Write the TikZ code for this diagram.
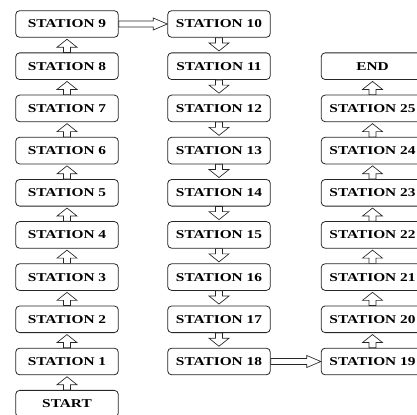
\documentclass[tikz,border=0pt]{standalone}
\usepackage{fontspec}
\newfontfamily\stationfont[FakeStretch=1.28]{Liberation Serif}
\usetikzlibrary{calc}

\tikzset{
    station/.style={draw=black!85, line width=0.6pt, rounded corners=3pt, fill=white,
        minimum width=77pt, minimum height=20pt, inner sep=0pt,
        font=\stationfont\bfseries\fontsize{9}{10}\selectfont},
    flow/.style={draw=black!85, line width=0.5pt, fill=white}
}

% hollow block arrows between two boxes
\newcommand{\upflow}[2]{%
    \draw[flow] ($(#1.north)+(-3.5,0)$) -- ($(#2.south)+(-3.5,-9.5)$) -- ++(-6.5,0)
        -- ($(#2.south)+(0,-1.5)$) -- ($(#2.south)+(10,-9.5)$) -- ++(-6.5,0)
        -- ($(#1.north)+(3.5,0)$) -- cycle;}
\newcommand{\downflow}[2]{%
    \draw[flow] ($(#1.south)+(-3.5,0)$) -- ($(#2.north)+(-3.5,9.5)$) -- ++(-6.5,0)
        -- ($(#2.north)+(0,1.5)$) -- ($(#2.north)+(10,9.5)$) -- ++(-6.5,0)
        -- ($(#1.south)+(3.5,0)$) -- cycle;}
\newcommand{\rightflow}[2]{%
    \draw[flow] ($(#1.east)+(0,3)$) -- ($(#2.west)+(-14,3)$) -- ++(0,3)
        -- (#2.west) -- ($(#2.west)+(-14,-6)$) -- ++(0,3)
        -- ($(#1.east)+(0,-3)$) -- cycle;}

\begin{document}
\begin{tikzpicture}[x=0.75pt, y=0.75pt]
                \useasboundingbox (0,0) rectangle (417,414);
                \clip (0,0) rectangle (417,414);

                % first column, going up
                \node[station] (start) at (67,10.3) {START};
                \node[station] (s1) at (67,52.5) {STATION 1};
                \node[station] (s2) at (67,94.7) {STATION 2};
                \node[station] (s3) at (67,136.9) {STATION 3};
                \node[station] (s4) at (67,179.1) {STATION 4};
                \node[station] (s5) at (67,221.2) {STATION 5};
                \node[station] (s6) at (67,263.4) {STATION 6};
                \node[station] (s7) at (67,305.6) {STATION 7};
                \node[station] (s8) at (67,347.8) {STATION 8};
                \node[station] (s9) at (67,390) {STATION 9};

                % second column, going down
                \node[station] (s10) at (219,390) {STATION 10};
                \node[station] (s11) at (219,347.8) {STATION 11};
                \node[station] (s12) at (219,305.6) {STATION 12};
                \node[station] (s13) at (219,263.4) {STATION 13};
                \node[station] (s14) at (219,221.2) {STATION 14};
                \node[station] (s15) at (219,179.1) {STATION 15};
                \node[station] (s16) at (219,136.9) {STATION 16};
                \node[station] (s17) at (219,94.7) {STATION 17};
                \node[station] (s18) at (219,52.5) {STATION 18};

                % third column, going up
                \node[station] (s19) at (372.5,52.5) {STATION 19};
                \node[station] (s20) at (372.5,94.7) {STATION 20};
                \node[station] (s21) at (372.5,136.9) {STATION 21};
                \node[station] (s22) at (372.5,179.1) {STATION 22};
                \node[station] (s23) at (372.5,221.2) {STATION 23};
                \node[station] (s24) at (372.5,263.4) {STATION 24};
                \node[station] (s25) at (372.5,305.6) {STATION 25};
                \node[station] (end) at (372.5,347.8) {END};

                \upflow{start}{s1}
                \upflow{s1}{s2}
                \upflow{s2}{s3}
                \upflow{s3}{s4}
                \upflow{s4}{s5}
                \upflow{s5}{s6}
                \upflow{s6}{s7}
                \upflow{s7}{s8}
                \upflow{s8}{s9}

                \rightflow{s9}{s10}

                \downflow{s10}{s11}
                \downflow{s11}{s12}
                \downflow{s12}{s13}
                \downflow{s13}{s14}
                \downflow{s14}{s15}
                \downflow{s15}{s16}
                \downflow{s16}{s17}
                \downflow{s17}{s18}

                \rightflow{s18}{s19}

                \upflow{s19}{s20}
                \upflow{s20}{s21}
                \upflow{s21}{s22}
                \upflow{s22}{s23}
                \upflow{s23}{s24}
                \upflow{s24}{s25}
                \upflow{s25}{end}
            \end{tikzpicture}
\end{document}
